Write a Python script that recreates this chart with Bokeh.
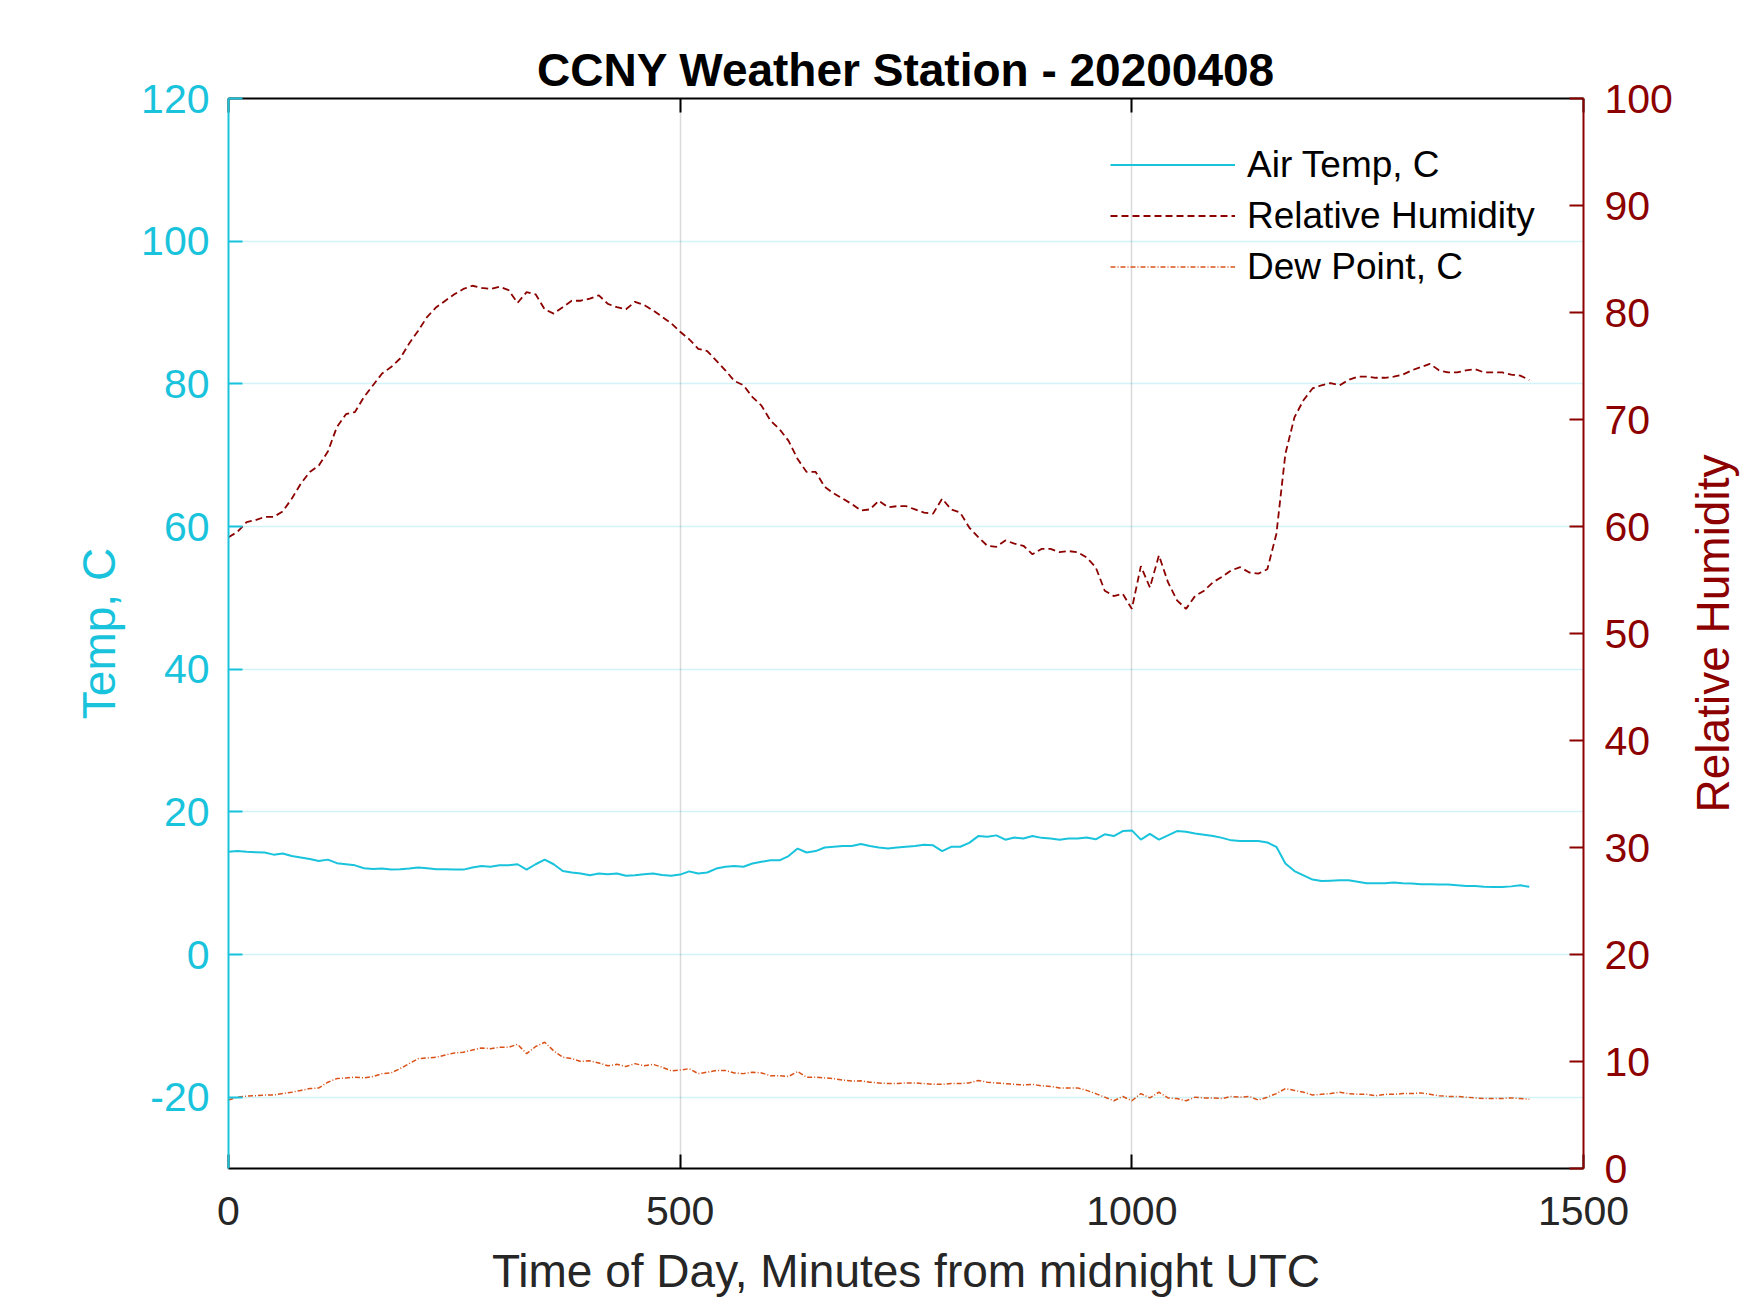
from bokeh.embed import file_html
from bokeh.models import FixedTicker, Label, LinearAxis, Range1d
from bokeh.plotting import figure
from bokeh.resources import INLINE

minutes = list(range(0, 1441, 10))

air_temp = [
    14.4, 14.5, 14.4, 14.35, 14.3, 14.0, 14.15, 13.8, 13.6, 13.4,
    13.1, 13.3, 12.8, 12.65, 12.5, 12.1, 12.0, 12.05, 11.9, 11.95,
    12.05, 12.2, 12.1, 11.95, 11.95, 11.9, 11.9, 12.2, 12.4, 12.3,
    12.5, 12.5, 12.65, 11.9, 12.65, 13.3, 12.65, 11.7, 11.5, 11.35,
    11.1, 11.35, 11.25, 11.35, 11.05, 11.1, 11.25, 11.35, 11.15, 11.05,
    11.2, 11.65, 11.35, 11.5, 12.05, 12.3, 12.4, 12.3, 12.75, 13.0,
    13.2, 13.2, 13.8, 14.85, 14.3, 14.5, 15.0, 15.1, 15.2, 15.2,
    15.5, 15.2, 15.0, 14.85, 15.0, 15.1, 15.2, 15.4, 15.3, 14.5,
    15.1, 15.1, 15.65, 16.6, 16.5, 16.7, 16.1, 16.4, 16.25, 16.6,
    16.35, 16.25, 16.1, 16.25, 16.25, 16.4, 16.15, 16.85, 16.6, 17.3,
    17.4, 16.1, 16.9, 16.1, 16.7, 17.3, 17.2, 16.95, 16.8, 16.6,
    16.35, 16.0, 15.9, 15.9, 15.9, 15.7, 15.1, 12.75, 11.7, 11.1,
    10.5, 10.3, 10.35, 10.4, 10.4, 10.2, 10.0, 10.0, 10.0, 10.1,
    10.0, 9.95, 9.85, 9.85, 9.8, 9.8, 9.7, 9.6, 9.6, 9.5,
    9.45, 9.45, 9.55, 9.7, 9.5,
]

rel_humidity = [
    59.0, 59.5, 60.4, 60.6, 60.9, 60.9, 61.4, 62.6, 64.0, 65.1,
    65.7, 67.0, 69.3, 70.5, 70.7, 72.1, 73.2, 74.3, 74.9, 75.7,
    77.1, 78.3, 79.6, 80.5, 81.1, 81.7, 82.2, 82.5, 82.3, 82.2,
    82.4, 82.1, 80.9, 81.9, 81.7, 80.3, 79.9, 80.5, 81.1, 81.1,
    81.3, 81.6, 80.8, 80.5, 80.3, 81.0, 80.7, 80.2, 79.6, 79.0,
    78.2, 77.5, 76.6, 76.4, 75.5, 74.6, 73.6, 73.2, 72.1, 71.3,
    69.9, 69.1, 68.0, 66.3, 65.1, 65.1, 63.7, 63.1, 62.6, 62.1,
    61.5, 61.6, 62.4, 61.8, 61.9, 61.9, 61.6, 61.3, 61.2, 62.6,
    61.6, 61.3, 59.9, 59.0, 58.2, 58.1, 58.7, 58.4, 58.2, 57.4,
    57.9, 57.9, 57.6, 57.7, 57.6, 57.1, 56.2, 54.0, 53.5, 53.7,
    52.3, 56.3, 54.3, 57.3, 54.8, 53.1, 52.3, 53.5, 54.0, 54.8,
    55.3, 55.9, 56.2, 55.7, 55.6, 56.0, 59.3, 66.8, 70.2, 71.8,
    72.9, 73.2, 73.4, 73.2, 73.7, 74.0, 74.0, 73.9, 73.9, 74.0,
    74.2, 74.6, 74.9, 75.2, 74.6, 74.4, 74.4, 74.6, 74.7, 74.4,
    74.4, 74.4, 74.2, 74.1, 73.7,
]

dew_point = [
    -20.4, -20.0, -19.85, -19.8, -19.7, -19.7, -19.5, -19.3, -19.05, -18.8,
    -18.7, -17.9, -17.4, -17.3, -17.2, -17.3, -17.1, -16.7, -16.6, -16.0,
    -15.3, -14.6, -14.5, -14.4, -14.1, -13.8, -13.7, -13.4, -13.1, -13.2,
    -13.0, -13.0, -12.6, -13.9, -12.9, -12.3, -13.5, -14.4, -14.6, -15.0,
    -14.9, -15.2, -15.6, -15.4, -15.7, -15.3, -15.6, -15.4, -15.8, -16.3,
    -16.2, -16.0, -16.7, -16.5, -16.25, -16.25, -16.6, -16.7, -16.5, -16.6,
    -17.0, -17.0, -17.1, -16.4, -17.2, -17.2, -17.3, -17.4, -17.6, -17.75,
    -17.7, -17.9, -18.0, -18.1, -18.1, -18.0, -18.0, -18.1, -18.2, -18.2,
    -18.1, -18.1, -18.0, -17.65, -17.9, -18.0, -18.1, -18.2, -18.3, -18.2,
    -18.4, -18.5, -18.7, -18.7, -18.7, -19.05, -19.5, -20.0, -20.5, -19.9,
    -20.5, -19.5, -20.1, -19.3, -20.1, -20.2, -20.5, -20.0, -20.1, -20.1,
    -20.2, -19.9, -20.0, -19.9, -20.4, -20.0, -19.5, -18.8, -19.05, -19.3,
    -19.7, -19.6, -19.5, -19.3, -19.5, -19.6, -19.6, -19.8, -19.6, -19.6,
    -19.5, -19.5, -19.4, -19.6, -19.8, -19.9, -19.9, -20.0, -20.1, -20.2,
    -20.2, -20.2, -20.1, -20.2, -20.3,
]

x_ticks = [0, 500, 1000, 1500]
x_tick_labels = ["0", "500", "1000", "1500"]
temp_ticks = [-20, 0, 20, 40, 60, 80, 100, 120]
temp_tick_labels = ["-20", "0", "20", "40", "60", "80", "100", "120"]
rh_ticks = [0, 10, 20, 30, 40, 50, 60, 70, 80, 90, 100]
rh_tick_labels = ["0", "10", "20", "30", "40", "50", "60", "70", "80", "90", "100"]

CYAN = "#1AC3DC"
DARK_RED = "#8C0000"
ORANGE = "#D95319"
GREY_TEXT = "#262626"
FONT = "Liberation Sans"

p = figure(width=1750, height=1313,
           x_range=Range1d(0, 1500), y_range=Range1d(-30, 120),
           output_backend="svg", toolbar_location=None,
           min_border_left=228, min_border_right=167,
           min_border_top=98, min_border_bottom=145,
           outline_line_color=None)
p.extra_y_ranges = {"rh": Range1d(0, 100)}

p.title.text = "CCNY Weather Station - 20200408"
p.title.align = "center"
p.title.text_font = FONT
p.title.text_font_size = "46px"
p.title.text_font_style = "bold"
p.title.text_color = "black"
p.title.standoff = 6


def style_axis(ax, color, label_color, ticks, labels, standoff):
    ax.ticker = FixedTicker(ticks=ticks)
    ax.major_label_overrides = dict(zip(ticks, labels))
    ax.axis_line_color = color
    ax.axis_line_width = 2
    ax.major_tick_line_color = color
    ax.major_tick_line_width = 2
    ax.major_tick_in = 14
    ax.major_tick_out = 0
    ax.minor_tick_line_color = None
    ax.major_label_text_color = label_color
    ax.major_label_text_font = FONT
    ax.major_label_text_font_size = "41px"
    ax.major_label_standoff = standoff


def style_label(ax, text, color, standoff):
    ax.axis_label = text
    ax.axis_label_text_font = FONT
    ax.axis_label_text_font_size = "46px"
    ax.axis_label_text_font_style = "normal"
    ax.axis_label_text_color = color
    ax.axis_label_standoff = standoff


# bottom axis
xax = p.xaxis[0]
style_axis(xax, "black", GREY_TEXT, x_ticks, x_tick_labels, 28)
style_label(xax, "Time of Day, Minutes from midnight UTC", GREY_TEXT, 17)

# left axis (temperatures)
yax = p.yaxis[0]
style_axis(yax, CYAN, CYAN, temp_ticks, temp_tick_labels, 19)
style_label(yax, "Temp, C", CYAN, 13)

# right axis (humidity)
rax = LinearAxis(y_range_name="rh")
style_axis(rax, DARK_RED, DARK_RED, rh_ticks, rh_tick_labels, 21)
p.add_layout(rax, "right")

# right axis title, reading bottom to top like the left one
p.add_layout(Label(x=37, y=535, x_units="screen", y_units="screen",
                   text="Relative Humidity", angle=90, angle_units="deg",
                   text_align="center", text_baseline="middle",
                   text_font=FONT, text_font_size="46px",
                   text_color=DARK_RED), "right")

# top edge of the box, inward ticks only
tax = LinearAxis()
style_axis(tax, "black", None, x_ticks, x_tick_labels, 0)
tax.major_label_text_font_size = "1px"
p.add_layout(tax, "above")

p.xgrid.grid_line_color = "black"
p.xgrid.grid_line_alpha = 0.15
p.xgrid.grid_line_width = 1.5
p.ygrid.grid_line_color = CYAN
p.ygrid.grid_line_alpha = 0.2
p.ygrid.grid_line_width = 1.5

p.line(minutes, air_temp, color=CYAN, line_width=2, legend_label="Air Temp, C")
p.line(minutes, rel_humidity, color=DARK_RED, line_width=1.8, line_dash="7 4",
       y_range_name="rh", legend_label="Relative Humidity")
p.line(minutes, dew_point, color=ORANGE, line_width=1.5, line_dash="5 2 1 2",
       legend_label="Dew Point, C")

leg = p.legend[0]
leg.location = (882, 876)
leg.label_text_font = FONT
leg.label_text_font_size = "37px"
leg.label_text_color = "black"
leg.glyph_width = 125
leg.glyph_height = 51
leg.label_height = 51
leg.label_standoff = 12
leg.spacing = 0
leg.padding = 0
leg.margin = 0
leg.border_line_alpha = 0
leg.background_fill_alpha = 0

open("out.html", "w").write(file_html(p, INLINE))
